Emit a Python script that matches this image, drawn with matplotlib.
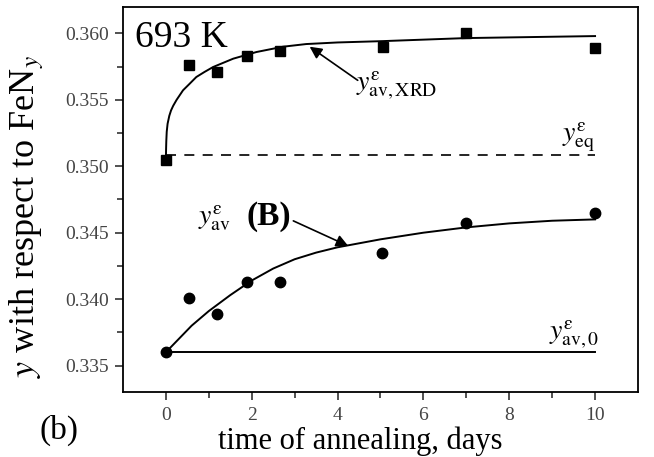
import matplotlib.pyplot as plt

plt.rcParams['font.family'] = ['Liberation Serif', 'DejaVu Serif']
plt.rcParams['mathtext.fontset'] = 'stix'

# XRD data (squares)
t_xrd = [0, 0.55, 1.2, 1.9, 2.67, 5.05, 7.0, 10.0]
y_xrd = [0.3505, 0.3576, 0.3571, 0.3583, 0.3587, 0.3590, 0.3600, 0.3589]

# B data (circles)
t_b = [0, 0.53, 1.2, 1.88, 2.67, 5.03, 7.0, 10.0]
y_b = [0.3360, 0.3401, 0.3389, 0.3413, 0.3413, 0.3435, 0.3457, 0.3465]

# fitted curves
t_fit_xrd = [0, 0.005, 0.01, 0.02, 0.04, 0.08, 0.12, 0.17, 0.25, 0.40, 0.55, 0.71, 0.9, 1.10,
             1.57, 2.11, 2.73, 3.27, 4.0, 5.05, 7.0, 10.0]
y_fit_xrd = [0.3505, 0.3513, 0.3519, 0.3526, 0.3532, 0.3538, 0.3542, 0.35455, 0.3550, 0.35572,
             0.3562, 0.35672, 0.3571, 0.35747, 0.3581, 0.3586, 0.3590, 0.3592, 0.35932,
             0.35942, 0.35965, 0.3598]

t_fit_b = [0, 0.3, 0.6, 1.0, 1.5, 2.0, 2.5, 3.0, 3.5, 4.0, 5.0, 6.0, 7.0, 8.0, 9.0, 10.0]
y_fit_b = [0.3360, 0.3370, 0.3380, 0.3391, 0.3403, 0.3414, 0.3423, 0.3430, 0.3435, 0.3439,
           0.3445, 0.3450, 0.3454, 0.3457, 0.3459, 0.3460]

y_eq = 0.35085
y_av0 = 0.3360

fig = plt.figure(figsize=(6.54, 4.57), dpi=100)
ax = fig.add_axes([0.188, 0.142, 0.7875, 0.843])

ax.plot(t_fit_xrd, y_fit_xrd, color='black', lw=1.4)
ax.plot(t_fit_b, y_fit_b, color='black', lw=1.4)
ax.plot([0, 10], [y_eq, y_eq], color='black', lw=1.2, ls=(0, (6, 5)))
ax.plot([0, 10], [y_av0, y_av0], color='black', lw=1.4)
ax.plot(t_xrd, y_xrd, 's', color='black', ms=7)
ax.plot(t_b, y_b, 'o', color='black', ms=7.5)

ax.set_xlim(-1, 11)
ax.set_ylim(0.333, 0.362)
ax.set_xticks([0, 2, 4, 6, 8, 10])
ax.set_xticks([1, 3, 5, 7, 9], minor=True)
ax.set_yticks([0.335, 0.340, 0.345, 0.350, 0.355, 0.360])
ax.set_yticks([0.3375, 0.3425, 0.3475, 0.3525, 0.3575], minor=True)
ax.set_yticklabels(['0.335', '0.340', '0.345', '0.350', '0.355', '0.360'])
ax.tick_params(which='both', direction='out', labelsize=14, color='#333333', labelcolor='#444444')
ax.tick_params(which='major', length=6, width=1.2, pad=4)
ax.tick_params(which='minor', length=4, width=1.2)
ax.tick_params(axis='x', which='major', pad=5)
for s in ax.spines.values():
    s.set_linewidth(1.3)

ax.set_xlabel('time of annealing, days', fontsize=22)
ax.xaxis.set_label_coords(0.46, -0.088)
ax.set_ylabel(r'$y$ with respect to FeN$_y$', fontsize=26)
ax.yaxis.set_label_coords(-0.15, 0.457)

ax.text(-0.72, 0.35895, '693 K', fontsize=27, va='baseline')
fig.text(0.061, 0.04, '(b)', fontsize=24)

# XRD label and arrow
ax.annotate('', xy=(3.35, 0.3590), xytext=(4.47, 0.35647),
            arrowprops=dict(arrowstyle='-|>', color='black', lw=1.2, mutation_scale=18,
                            shrinkA=0, shrinkB=0))
ax.text(4.42, 0.35575, r'$y^{\mathrm{ε}}_{\mathrm{av,XRD}}$', fontsize=20, ha='left', va='baseline')

ax.text(10.0, 0.3519, r'$y^{\mathrm{ε}}_{\mathrm{eq}}$', fontsize=20, ha='right', va='baseline')
ax.text(10.1, 0.3370, r'$y^{\mathrm{ε}}_{\mathrm{av,0}}$', fontsize=20, ha='right', va='baseline')

# B label and arrow
ax.text(0.74, 0.34566, r'$y^{\mathrm{ε}}_{\mathrm{av}}$', fontsize=20, ha='left', va='baseline')
ax.text(1.88, 0.34562, '(B)', fontsize=24, fontweight='bold', ha='left', va='baseline')
ax.annotate('', xy=(4.25, 0.3440), xytext=(2.97, 0.34589),
            arrowprops=dict(arrowstyle='-|>', color='black', lw=1.2, mutation_scale=18,
                            shrinkA=0, shrinkB=0))

fig.savefig('out.png', dpi=100)
